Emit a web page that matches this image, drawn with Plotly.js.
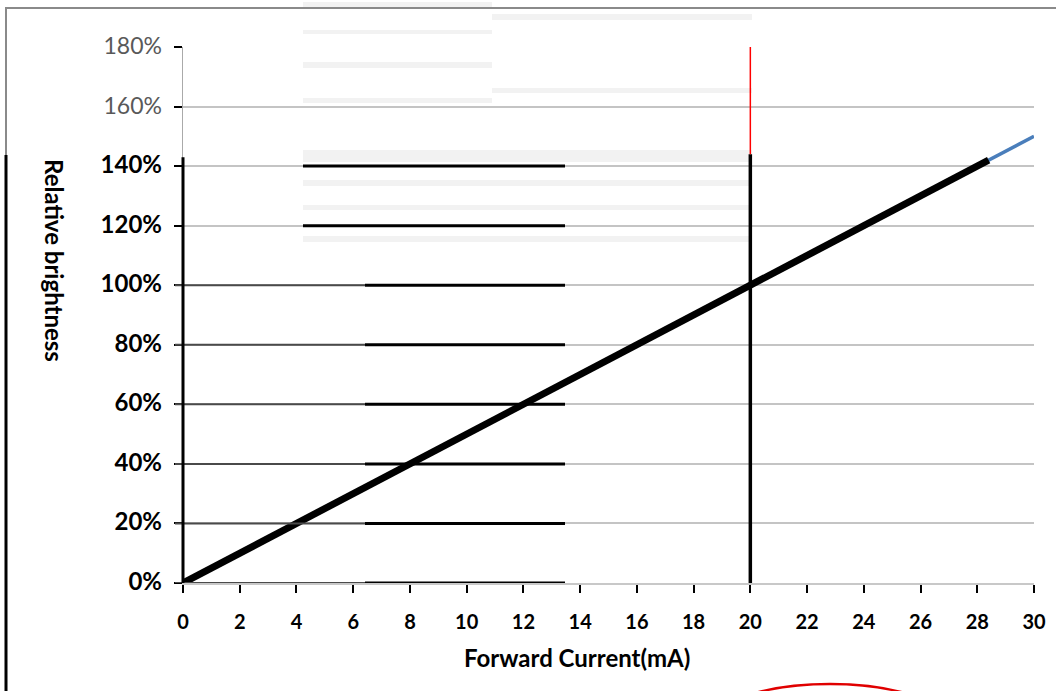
<!DOCTYPE html>
<html>
<head>
<meta charset="utf-8">
<script src="https://cdn.plot.ly/plotly-3.0.1.min.js"></script>
<style>html,body{margin:0;padding:0;background:#fff;}#chart{width:1056px;height:691px;}</style>
</head>
<body>
<div id="chart"></div>
<script>
// ---- data ----
var currentMA = [0, 2, 4, 6, 8, 10, 12, 14, 16, 18, 20, 22, 24, 26, 28, 30];
var relBrightness = [0, 0.10, 0.20, 0.30, 0.40, 0.50, 0.60, 0.70, 0.80, 0.90, 1.00, 1.10, 1.20, 1.30, 1.40, 1.50];
var overlayCurrent = [0, 4, 8, 12, 16, 20, 24, 28.4];
var overlayBrightness = [0, 0.20, 0.40, 0.60, 0.80, 1.00, 1.20, 1.42];
var xTickVals = [0, 2, 4, 6, 8, 10, 12, 14, 16, 18, 20, 22, 24, 26, 28, 30];
var yTickVals = [0, 0.2, 0.4, 0.6, 0.8, 1.0, 1.2, 1.4, 1.6, 1.8];
var yTickText = ['0%', '20%', '40%', '60%', '80%', '100%', '120%', '140%', '160%', '180%'];
var ratedCurrent = 20;
var ratedSplit = 1.44;

var L = 183, R = 1034, T = 47, B = 583, W = 1056, H = 691;
function px(x) { return (x - L) / (R - L); }
function py(y) { return (B - y) / (B - T); }

var yText = yTickText.map(function (t, i) {
  return yTickVals[i] >= 1.6
    ? '<span style="color:#595959;font-weight:normal;font-size:23px">' + t + '</span>'
    : '<b><span style="font-size:24px">' + t + '</span></b>';
});

var traces = [
  { x: currentMA, y: relBrightness, type: 'scatter', mode: 'lines',
    line: { color: '#4a7ebb', width: 3.5 }, hoverinfo: 'skip', showlegend: false },
  { x: overlayCurrent, y: overlayBrightness, type: 'scatter', mode: 'lines',
    line: { color: '#000000', width: 7 }, hoverinfo: 'skip', showlegend: false }
];

var shapes = [];
// pale watermark streaks
[[303, 492, 2, 8], [303, 492, 30, 34], [303, 492, 62, 68], [303, 492, 98, 103], [303, 752, 150, 162],
 [303, 752, 180, 186], [303, 752, 205, 210], [303, 752, 236, 242], [492, 752, 14, 20], [492, 752, 88, 93]].forEach(function (b) {
  shapes.push({ type: 'rect', xref: 'paper', yref: 'paper', x0: px(b[0]), x1: px(b[1]), y0: py(b[3]), y1: py(b[2]),
    fillcolor: '#f2f2f2', line: { width: 0 }, layer: 'below' });
});
// dark gridline segments
yTickVals.forEach(function (v) {
  if (v > 1.41) return;
  var startDark = v >= 1.19 ? 303 : 365;
  if (v < 1.19) {
    shapes.push({ type: 'line', xref: 'paper', yref: 'y', x0: px(175), x1: px(365), y0: v, y1: v,
      line: { color: '#4a4a4a', width: 2 } });
  }
  shapes.push({ type: 'line', xref: 'paper', yref: 'y', x0: px(startDark), x1: px(565), y0: v, y1: v,
    line: { color: '#000000', width: 3 } });
});
// y axis black part
shapes.push({ type: 'line', xref: 'paper', yref: 'y', x0: 0, x1: 0, y0: 0, y1: 1.43, line: { color: '#000', width: 3 } });
// rated current vertical line
shapes.push({ type: 'line', xref: 'x', yref: 'y', x0: ratedCurrent, x1: ratedCurrent, y0: 0, y1: ratedSplit, line: { color: '#000', width: 3.5 } });
shapes.push({ type: 'line', xref: 'x', yref: 'y', x0: ratedCurrent, x1: ratedCurrent, y0: ratedSplit, y1: 1.8, line: { color: '#ff0000', width: 1.5 } });
// outer frame
shapes.push({ type: 'line', xref: 'paper', yref: 'paper', x0: px(5), x1: px(1056), y0: py(8), y1: py(8), line: { color: '#8a8a8a', width: 2 } });
shapes.push({ type: 'line', xref: 'paper', yref: 'paper', x0: px(6), x1: px(6), y0: py(8), y1: py(155), line: { color: '#8a8a8a', width: 2 } });
shapes.push({ type: 'line', xref: 'paper', yref: 'paper', x0: px(6), x1: px(6), y0: py(155), y1: py(691), line: { color: '#000', width: 3 } });
// red ellipse at bottom
shapes.push({ type: 'circle', xref: 'paper', yref: 'paper', x0: px(705), x1: px(955), y0: py(775), y1: py(684), line: { color: '#e00000', width: 2.5 } });

var layout = {
  width: W, height: H,
  margin: { l: L, r: W - R, t: T, b: H - B, pad: 0 },
  paper_bgcolor: '#ffffff', plot_bgcolor: 'rgba(0,0,0,0)',
  showlegend: false,
  font: { family: 'Lato, "Open Sans", sans-serif', color: '#000' },
  xaxis: {
    range: [0, 30], tickvals: xTickVals, ticktext: xTickVals.map(function (v) { return '<b>' + v + '</b>'; }),
    showgrid: false, zeroline: false, showline: true, linecolor: '#c8c8c8', linewidth: 2,
    ticks: 'outside', ticklen: 8, tickwidth: 2, tickcolor: '#000',
    tickfont: { size: 20, color: '#000', family: 'Lato, sans-serif' }, ticklabelstandoff: 12, fixedrange: true
  },
  yaxis: {
    range: [0, 1.8], tickvals: yTickVals, ticktext: yText,
    showgrid: true, gridcolor: '#c4c4c4', gridwidth: 2, zeroline: false,
    showline: true, linecolor: '#aaaaaa', linewidth: 1,
    ticks: 'outside', ticklen: 8, tickwidth: 2, tickcolor: '#000',
    tickfont: { size: 20, color: '#000', family: 'Lato, sans-serif' }, ticklabelstandoff: 8, fixedrange: true
  },
  shapes: shapes,
  annotations: [
    { text: '<b>Forward Current(mA)</b>', xref: 'paper', yref: 'paper', x: px(577), y: py(657),
      xanchor: 'center', yanchor: 'middle',
      showarrow: false, font: { size: 24, color: '#000', family: 'Lato, sans-serif' } },
    { text: '<b>Relative brightness</b>', xref: 'paper', yref: 'paper', x: px(55), y: py(260), textangle: 90,
      xanchor: 'center', yanchor: 'middle',
      showarrow: false, font: { size: 24, color: '#000', family: 'Lato, sans-serif' } }
  ]
};

Plotly.newPlot('chart', traces, layout, { displayModeBar: false, staticPlot: true });
</script>
</body>
</html>
